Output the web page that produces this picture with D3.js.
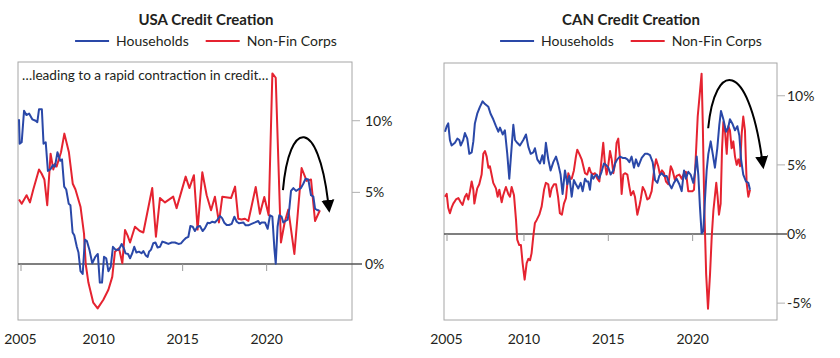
<!DOCTYPE html>
<html><head><meta charset="utf-8">
<script src="https://cdn.jsdelivr.net/npm/d3@7"></script>
<style>
body{margin:0;background:#fff}
svg{display:block}
text{font-family:Lato,"Open Sans",sans-serif;fill:#231f20}
</style>
</head><body>
<svg id="chart" width="840" height="358"></svg>
<script>
// ---------------- DATA ----------------
const seriesNames = ["Households", "Non-Fin Corps"];
const xTickYears = [2005, 2010, 2015, 2020];
const usaYTicks = [0, 5, 10];
const canYTicks = [-5, 0, 5, 10];

// USA credit creation, y/y %, [decimal year, value]
const usaHouseholds = [
[2005.26,10.1],[2005.30,8.4],[2005.42,8.5],[2005.56,10.7],[2005.70,10.4],[2005.86,10.5],[2006.05,10.1],[2006.25,10.0],[2006.35,9.9],[2006.45,10.8],[2006.62,10.8],[2006.72,8.4],[2006.85,8.5],[2006.98,6.5],[2007.12,6.6],[2007.28,6.9],[2007.40,6.8],[2007.55,7.8],[2007.72,7.2],[2007.82,7.3],[2007.95,5.4],[2008.07,5.2],[2008.22,4.2],[2008.32,4.1],[2008.45,2.2],[2008.55,2.0],[2008.70,1.2],[2008.80,0.8],[2008.92,-0.5],[2009.05,-0.7],[2009.18,1.7],[2009.30,1.6],[2009.45,1.0],[2009.62,0.05],[2009.80,0.5],[2009.95,0.7],[2010.07,-1.3],[2010.20,-1.3],[2010.32,0.5],[2010.45,0.4],[2010.58,-0.5],[2010.72,-0.2],[2010.85,1.2],[2011.00,1.0],[2011.20,1.0],[2011.37,1.4],[2011.50,1.1],[2011.60,0.74],[2011.75,0.7],[2011.87,0.4],[2012.00,0.75],[2012.12,1.2],[2012.25,0.8],[2012.40,0.86],[2012.55,0.75],[2012.66,0.9],[2012.80,0.6],[2012.92,0.5],[2013.00,0.86],[2013.12,1.0],[2013.25,1.45],[2013.38,1.5],[2013.51,1.15],[2013.65,1.2],[2013.79,1.56],[2013.95,1.5],[2014.15,1.4],[2014.35,1.5],[2014.54,1.5],[2014.75,1.4],[2014.90,1.44],[2015.05,1.65],[2015.18,1.8],[2015.34,1.9],[2015.46,2.65],[2015.60,2.6],[2015.73,2.3],[2015.88,2.6],[2016.03,2.65],[2016.19,2.3],[2016.33,2.5],[2016.49,2.88],[2016.62,2.85],[2016.77,2.95],[2016.92,2.9],[2017.08,3.1],[2017.22,3.35],[2017.35,3.2],[2017.48,2.88],[2017.62,2.72],[2017.76,2.72],[2017.92,2.8],[2018.08,3.3],[2018.22,2.95],[2018.35,2.84],[2018.61,2.9],[2018.75,2.7],[2018.91,2.7],[2019.10,2.8],[2019.31,2.9],[2019.50,3.0],[2019.60,2.8],[2019.70,2.9],[2019.90,2.9],[2020.06,2.46],[2020.20,3.4],[2020.34,3.3],[2020.46,1.07],[2020.54,0.02],[2020.65,2.6],[2020.75,3.4],[2020.89,3.3],[2020.99,2.9],[2021.12,3.0],[2021.25,3.1],[2021.35,3.86],[2021.45,5.1],[2021.59,5.3],[2021.75,5.1],[2021.88,5.2],[2022.04,5.3],[2022.18,5.6],[2022.32,5.95],[2022.48,5.9],[2022.64,4.8],[2022.78,4.7],[2022.88,3.86],[2023.04,3.75],[2023.13,3.75]
];
const usaNonFinCorps = [
[2005.26,4.5],[2005.42,4.2],[2005.71,4.8],[2005.91,4.3],[2006.11,5.2],[2006.45,6.6],[2006.61,6.3],[2006.77,5.9],[2006.94,4.1],[2007.14,7.7],[2007.30,6.6],[2007.40,7.0],[2007.50,6.8],[2007.76,7.8],[2007.96,9.1],[2008.23,7.8],[2008.46,5.6],[2008.62,5.2],[2008.92,4.0],[2009.13,2.1],[2009.23,0.0],[2009.39,-1.3],[2009.68,-2.7],[2009.94,-3.1],[2010.28,-2.5],[2010.58,-1.8],[2010.81,-0.9],[2010.97,0.86],[2011.21,1.1],[2011.41,0.05],[2011.57,2.37],[2011.72,2.0],[2011.87,1.5],[2012.16,2.6],[2012.45,2.3],[2012.66,2.2],[2013.19,5.3],[2013.41,1.9],[2013.65,4.6],[2013.95,4.3],[2014.44,4.7],[2014.64,3.9],[2015.18,6.1],[2015.40,5.3],[2015.67,6.2],[2015.89,2.4],[2016.17,6.4],[2016.43,4.8],[2016.69,3.75],[2016.92,4.7],[2017.16,2.9],[2017.36,4.7],[2017.88,4.6],[2018.12,5.4],[2018.31,3.16],[2018.50,3.1],[2018.71,3.16],[2018.91,3.0],[2019.07,3.86],[2019.35,5.37],[2019.60,3.5],[2019.86,4.67],[2020.12,3.4],[2020.34,13.3],[2020.54,13.0],[2020.85,1.5],[2021.07,2.9],[2021.29,3.8],[2021.65,0.7],[2022.08,6.7],[2022.38,5.8],[2022.64,5.9],[2022.88,3.0],[2023.17,3.75]
];

// Canada credit creation, y/y %, [decimal year, value]
const canHouseholds = [
[2005.32,7.4],[2005.42,7.8],[2005.51,8.0],[2005.61,6.8],[2005.71,6.4],[2005.91,6.6],[2006.05,6.9],[2006.17,6.8],[2006.25,6.4],[2006.40,6.8],[2006.50,7.3],[2006.64,6.9],[2006.76,5.8],[2006.90,5.9],[2007.00,6.7],[2007.09,8.0],[2007.23,8.7],[2007.39,9.2],[2007.55,9.6],[2007.69,9.4],[2007.89,9.2],[2008.02,8.7],[2008.18,8.3],[2008.34,7.8],[2008.48,7.4],[2008.58,7.7],[2008.74,7.2],[2008.87,7.5],[2009.01,5.8],[2009.13,4.0],[2009.27,6.3],[2009.37,7.9],[2009.47,6.8],[2009.60,6.6],[2009.76,6.4],[2009.96,6.8],[2010.12,7.2],[2010.26,6.3],[2010.40,5.8],[2010.55,5.9],[2010.65,6.2],[2010.79,5.4],[2010.95,5.1],[2011.09,5.7],[2011.19,5.1],[2011.30,6.6],[2011.44,5.4],[2011.58,4.6],[2011.74,5.2],[2011.90,5.6],[2012.04,5.0],[2012.17,4.3],[2012.29,2.9],[2012.43,4.6],[2012.57,3.6],[2012.69,4.2],[2012.83,2.7],[2012.96,3.9],[2013.08,3.6],[2013.22,3.3],[2013.36,3.7],[2013.48,3.1],[2013.62,4.0],[2013.72,3.8],[2013.81,3.8],[2013.91,3.2],[2014.01,4.3],[2014.11,4.0],[2014.21,4.2],[2014.31,4.3],[2014.45,4.0],[2014.60,4.5],[2014.74,5.1],[2014.86,5.0],[2015.00,4.8],[2015.14,4.3],[2015.30,4.6],[2015.40,5.1],[2015.53,5.4],[2015.69,5.6],[2015.85,5.5],[2015.99,5.5],[2016.13,5.4],[2016.25,5.2],[2016.38,5.6],[2016.52,4.8],[2016.64,5.4],[2016.78,4.9],[2016.98,5.5],[2017.17,5.8],[2017.33,5.8],[2017.47,5.7],[2017.63,5.2],[2017.77,3.9],[2017.91,3.7],[2018.02,4.2],[2018.16,4.4],[2018.30,4.2],[2018.46,4.2],[2018.62,3.6],[2018.75,3.3],[2018.89,3.7],[2019.05,4.0],[2019.21,3.6],[2019.35,3.1],[2019.49,4.6],[2019.60,4.0],[2019.74,4.5],[2019.88,4.3],[2020.04,3.7],[2020.14,4.5],[2020.24,5.6],[2020.34,4.2],[2020.43,2.0],[2020.53,0.05],[2020.63,0.2],[2020.73,2.5],[2020.83,4.6],[2020.93,5.8],[2021.07,6.7],[2021.19,5.8],[2021.32,4.8],[2021.46,6.2],[2021.58,7.9],[2021.68,8.9],[2021.82,8.3],[2021.98,7.4],[2022.11,7.7],[2022.21,8.3],[2022.35,8.0],[2022.51,7.5],[2022.65,7.8],[2022.77,7.1],[2022.87,5.4],[2023.00,4.3],[2023.16,3.8],[2023.30,3.7],[2023.40,3.2]
];
const canNonFinCorps = [
[2005.32,2.7],[2005.42,2.9],[2005.51,1.9],[2005.61,1.5],[2005.71,1.9],[2005.81,2.2],[2005.97,2.5],[2006.11,2.6],[2006.25,2.3],[2006.36,2.1],[2006.50,2.7],[2006.60,2.9],[2006.70,2.5],[2006.80,3.1],[2006.90,3.8],[2007.00,3.2],[2007.06,2.2],[2007.15,2.8],[2007.23,3.3],[2007.35,3.6],[2007.49,4.3],[2007.59,5.8],[2007.69,6.0],[2007.79,5.6],[2007.89,4.8],[2007.98,4.9],[2008.08,4.3],[2008.18,3.7],[2008.34,3.3],[2008.44,2.7],[2008.54,3.2],[2008.68,2.3],[2008.77,2.8],[2008.93,3.4],[2009.07,2.9],[2009.17,2.7],[2009.27,3.4],[2009.41,2.8],[2009.53,1.0],[2009.60,-0.4],[2009.72,-0.8],[2009.82,-0.8],[2009.92,-2.1],[2010.04,-3.3],[2010.16,-2.1],[2010.26,-1.8],[2010.36,-1.9],[2010.45,-1.4],[2010.55,-0.2],[2010.65,0.8],[2010.75,1.0],[2010.91,1.4],[2011.05,2.0],[2011.19,3.2],[2011.30,3.7],[2011.44,3.6],[2011.54,2.7],[2011.64,3.3],[2011.78,3.6],[2011.90,3.6],[2012.02,2.7],[2012.13,1.5],[2012.25,1.4],[2012.37,2.2],[2012.49,2.6],[2012.63,4.4],[2012.73,4.0],[2012.83,4.0],[2012.96,4.6],[2013.08,5.6],[2013.16,6.1],[2013.28,5.8],[2013.42,5.4],[2013.52,4.9],[2013.62,4.4],[2013.75,4.3],[2013.87,4.8],[2013.95,4.5],[2014.07,4.3],[2014.21,4.4],[2014.35,4.0],[2014.47,3.8],[2014.60,5.4],[2014.70,6.6],[2014.80,5.1],[2014.90,4.3],[2015.00,5.0],[2015.10,6.0],[2015.20,5.4],[2015.30,4.4],[2015.40,5.1],[2015.49,6.6],[2015.59,6.9],[2015.69,5.5],[2015.79,2.9],[2015.89,4.3],[2015.99,4.4],[2016.13,4.3],[2016.25,3.4],[2016.34,2.8],[2016.48,3.1],[2016.58,2.7],[2016.72,1.4],[2016.84,2.0],[2016.92,2.5],[2017.04,3.4],[2017.17,3.1],[2017.31,2.5],[2017.43,2.6],[2017.57,3.1],[2017.71,4.6],[2017.83,5.4],[2017.96,4.9],[2018.06,4.3],[2018.18,4.6],[2018.30,4.4],[2018.42,3.8],[2018.56,3.6],[2018.70,4.9],[2018.81,4.6],[2018.95,3.9],[2019.05,4.2],[2019.21,4.3],[2019.35,4.0],[2019.49,4.4],[2019.60,4.5],[2019.74,3.1],[2019.88,3.1],[2020.00,3.1],[2020.08,3.2],[2020.16,4.9],[2020.30,8.5],[2020.53,11.6],[2020.60,8.0],[2020.69,2.0],[2020.80,-2.9],[2020.91,-5.4],[2021.03,-2.9],[2021.13,-0.2],[2021.23,1.7],[2021.40,3.7],[2021.48,2.7],[2021.56,1.4],[2021.66,2.2],[2021.74,6.1],[2021.82,8.1],[2021.92,7.4],[2022.02,5.8],[2022.11,7.8],[2022.21,7.5],[2022.31,6.2],[2022.41,6.7],[2022.51,5.6],[2022.61,5.0],[2022.71,5.4],[2022.81,4.9],[2022.91,7.3],[2023.00,8.5],[2023.10,7.5],[2023.20,3.7],[2023.30,2.7],[2023.40,3.2]
];

// ---------------- DRAWING ----------------
const COLORS = {hh: "#2a48a8", nfc: "#e52330"};
const svg = d3.select("#chart");

function drawPanel(p) {
  const g = svg.append("g");
  const x = d3.scaleLinear().domain(p.xDomain).range([p.left, p.right]);
  const y = d3.scaleLinear().domain(p.yDomain).range([p.bottom, p.top]);

  // title
  g.append("text").attr("x", p.center).attr("y", 25)
    .attr("text-anchor", "middle").attr("font-weight", 700).attr("font-size", 15)
    .text(p.title);

  // legend
  const leg = g.append("g");
  let cx = 0;
  [[seriesNames[0], COLORS.hh], [seriesNames[1], COLORS.nfc]].forEach(([name, col], i) => {
    if (i > 0) cx += 17;
    leg.append("line").attr("x1", cx).attr("x2", cx + 34).attr("y1", 41).attr("y2", 41)
      .attr("stroke", col).attr("stroke-width", 2);
    cx += 41;
    const t = leg.append("text").attr("x", cx).attr("y", 46).attr("font-size", 14).text(name);
    cx += t.node().getComputedTextLength();
  });
  leg.attr("transform", `translate(${p.center - cx / 2},0)`);

  // frame
  g.append("rect").attr("x", p.left).attr("y", p.top)
    .attr("width", p.right - p.left).attr("height", p.bottom - p.top)
    .attr("fill", "none").attr("stroke", "#a6a6a6").attr("stroke-width", 1);

  // y ticks & labels (right side)
  p.yTicks.forEach(v => {
    if (v !== 0) {
      g.append("line").attr("x1", p.right).attr("x2", p.right + 8)
        .attr("y1", y(v)).attr("y2", y(v)).attr("stroke", "#b0b0b0").attr("stroke-width", 1);
    }
    g.append("text").attr("x", p.right + p.labelOffset).attr("y", y(v) + 5)
      .attr("font-size", 14).text(v + "%");
  });

  // zero line
  g.append("line").attr("x1", p.left).attr("x2", p.right + 10)
    .attr("y1", y(0)).attr("y2", y(0)).attr("stroke", "#555").attr("stroke-width", 1.6);

  // x ticks & labels
  xTickYears.forEach(t => {
    const xx = Math.max(x(t), p.left + 3);
    g.append("line").attr("x1", xx).attr("x2", xx).attr("y1", y(0)).attr("y2", y(0) + 7)
      .attr("stroke", "#999").attr("stroke-width", 1);
    g.append("text").attr("x", Math.max(x(t), p.left + 2.5)).attr("y", 344)
      .attr("text-anchor", "middle").attr("font-size", 14).text(t);
  });

  // annotation
  if (p.note) {
    g.append("text").attr("x", p.left + 4).attr("y", 80).attr("font-size", 13.6).text(p.note);
  }

  // lines
  const line = d3.line().x(d => x(d[0])).y(d => y(d[1]));
  g.append("path").datum(p.nfc).attr("d", line).attr("fill", "none")
    .attr("stroke", COLORS.nfc).attr("stroke-width", 2).attr("stroke-linejoin", "round");
  g.append("path").datum(p.hh).attr("d", line).attr("fill", "none")
    .attr("stroke", COLORS.hh).attr("stroke-width", 2).attr("stroke-linejoin", "round");

  // curved arrow (annotation, in data space)
  const a = p.arrow.map(d => [x(d[0]), y(d[1])]);
  g.append("path")
    .attr("d", `M${a[0]}C${a[1]} ${a[2]} ${a[3]}`)
    .attr("fill", "none").attr("stroke", "#000").attr("stroke-width", 2)
    .attr("marker-end", "url(#arrowhead)");
}

svg.append("defs").append("marker")
  .attr("id", "arrowhead").attr("markerUnits", "userSpaceOnUse")
  .attr("markerWidth", 16).attr("markerHeight", 16)
  .attr("viewBox", "0 -8 16 16").attr("refX", 1).attr("refY", 0).attr("orient", "auto")
  .append("path").attr("d", "M0,-6.5L13,0L0,6.5Z").attr("fill", "#000");

drawPanel({
  title: "USA Credit Creation", center: 206,
  left: 18, right: 352, top: 62, bottom: 320,
  xDomain: [2005.2, 2025.08], yDomain: [-3.91, 14.1],
  yTicks: usaYTicks, labelOffset: 13,
  hh: usaHouseholds, nfc: usaNonFinCorps,
  note: "\u2026leading to a rapid contraction in credit\u2026",
  arrow: [[2020.97, 5.16], [2021.35, 10.2], [2023.05, 10.2], [2023.65, 4.4]]
});

drawPanel({
  title: "CAN Credit Creation", center: 631,
  left: 444, right: 777, top: 63, bottom: 320,
  xDomain: [2005.26, 2025.0], yDomain: [-6.22, 12.37],
  yTicks: canYTicks, labelOffset: 10,
  hh: canHouseholds, nfc: canNonFinCorps,
  note: null,
  arrow: [[2020.92, 7.65], [2021.32, 12.6], [2023.27, 12.6], [2024.1, 5.55]]
});
</script>
</body></html>
